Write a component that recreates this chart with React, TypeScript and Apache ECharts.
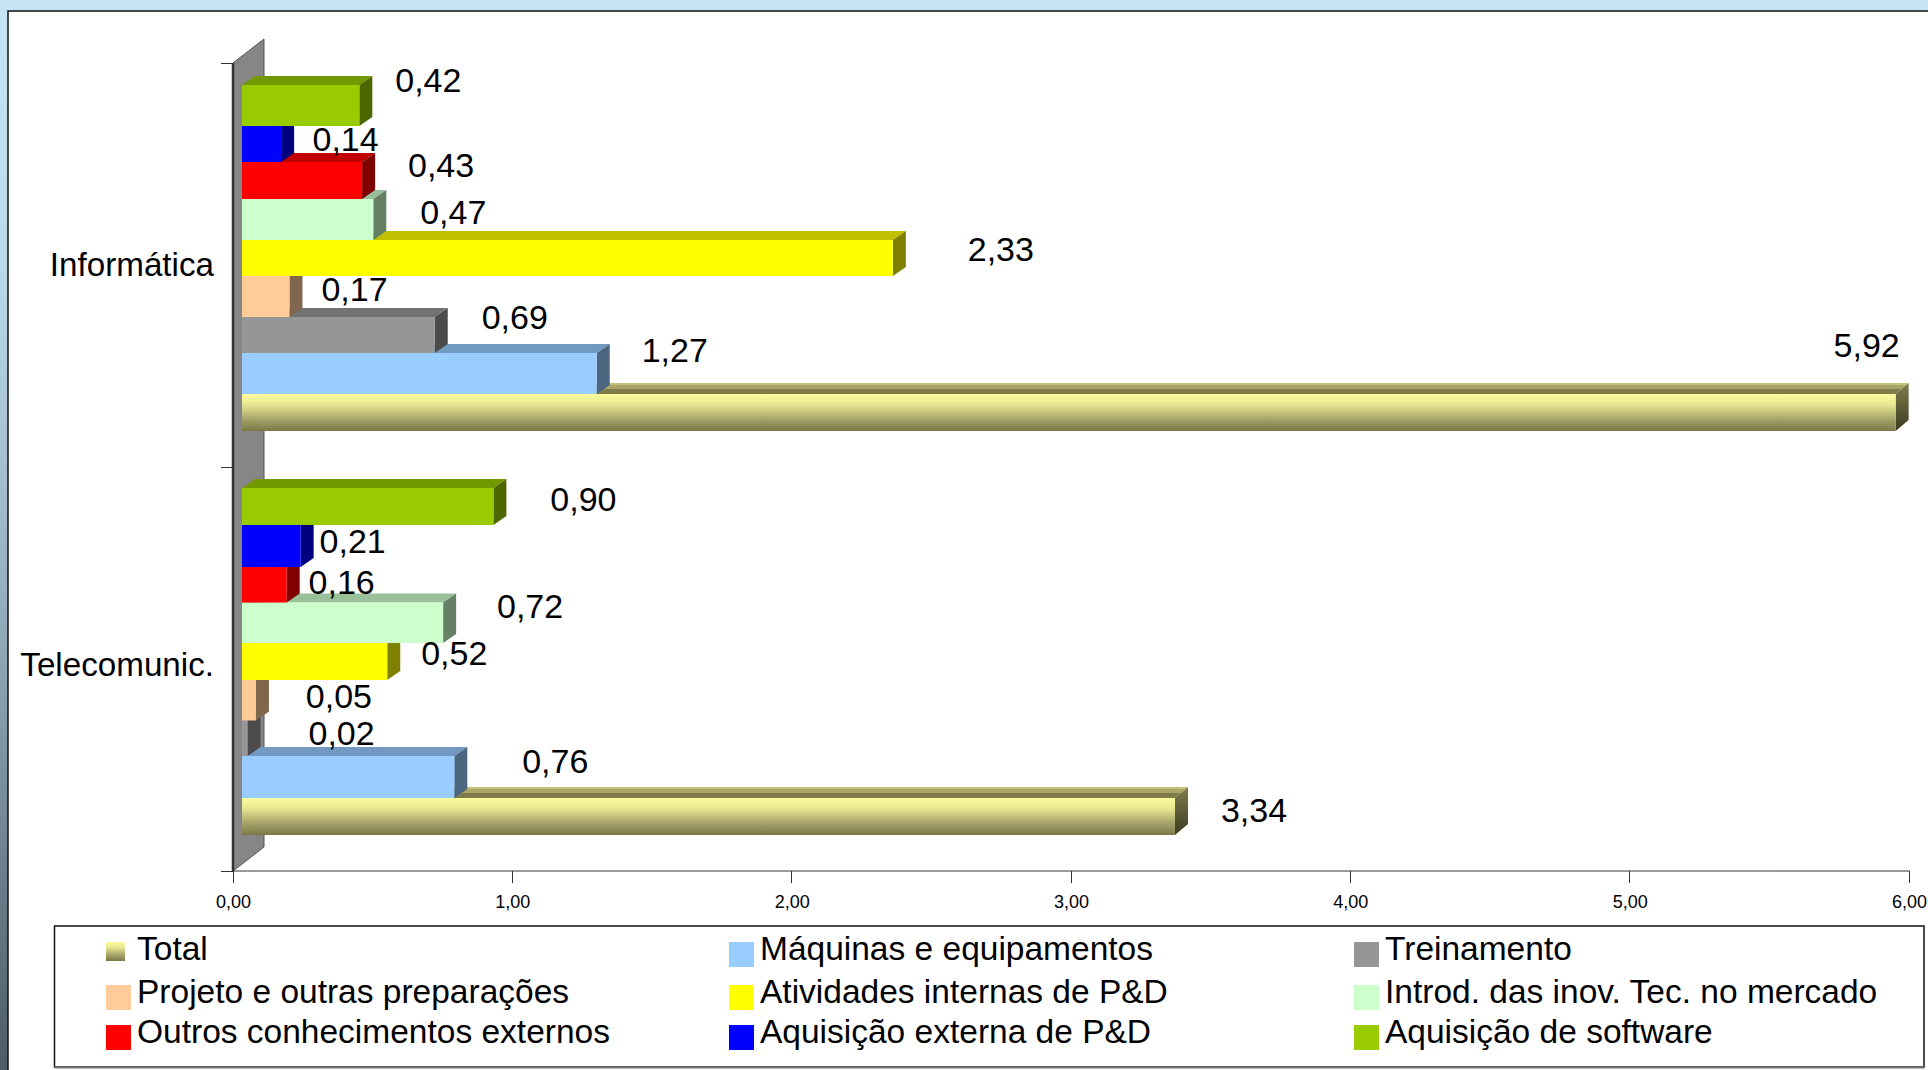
import React, { useEffect, useRef } from "react";
import * as echarts from "echarts";

const categories = ["Telecomunic.", "Informática"];
const axisTicks = [0, 6, 1];

// values are listed [Telecomunic., Informática]
const total = [3.34, 5.92];
const maquinas = [0.76, 1.27];
const treinamento = [0.02, 0.69];
const projeto = [0.05, 0.17];
const atividades = [0.52, 2.33];
const introducao = [0.72, 0.47];
const outros = [0.16, 0.43];
const aquisicaoPD = [0.21, 0.14];
const software = [0.9, 0.42];

const seriesNames = [
  "Total",
  "Máquinas e equipamentos",
  "Treinamento",
  "Projeto e outras preparações",
  "Atividades internas de P&D",
  "Introd. das inov. Tec. no mercado",
  "Outros conhecimentos externos",
  "Aquisição externa de P&D",
  "Aquisição de software",
];
const seriesValues = [total, maquinas, treinamento, projeto, atividades, introducao, outros, aquisicaoPD, software];

const FONT = '"Liberation Sans", Arial, sans-serif';
const vGrad = (stops: [number, string][]) => ({
  type: "linear", x: 0, y: 0, x2: 0, y2: 1, global: false,
  colorStops: stops.map(([offset, color]) => ({ offset, color })),
});

const totalFront = vGrad([[0, "#FDFD9E"], [0.3, "#E6E48F"], [0.65, "#ABA86C"], [1, "#7A7848"]]);
const totalTop = vGrad([[0, "#C6C27C"], [0.22, "#C6C27C"], [0.22, "#A9A566"], [0.55, "#A9A566"], [0.55, "#7F7C4A"], [1, "#7F7C4A"]]);
const totalSide = vGrad([[0, "#7F7D4C"], [1, "#3C3B22"]]);

const faces: { front: any; top: any; side: any }[] = [
  { front: totalFront, top: totalTop, side: totalSide },
  { front: "#99CCFF", top: "#7299C1", side: "#4D6680" },
  { front: "#969696", top: "#737373", side: "#4B4B4B" },
  { front: "#FFCC99", top: "#C09A73", side: "#80664D" },
  { front: "#FFFF00", top: "#C0C000", side: "#808000" },
  { front: "#CCFFCC", top: "#99C099", side: "#668066" },
  { front: "#FF0000", top: "#C00000", side: "#800000" },
  { front: "#0000FF", top: "#0000C0", side: "#000080" },
  { front: "#99CC00", top: "#739900", side: "#4D6600" },
];

// placed data labels: offset from bar end / bar centre, per series, [Telecomunic., Informática]
const labelOffsets: [number, number][][] = [
  [[79, -6], [-29, -67]],
  [[101, -16], [78, -23]],
  [[94, -6], [80, -18]],
  [[83, -4.5], [65, -7.5]],
  [[67, -9], [108, -8.4]],
  [[87, -17], [80, -7]],
  [[55, -3], [79, -15.5]],
  [[52, -5], [64.5, -3.7]],
  [[90, -9], [69, -24]],
];

// bar edges relative to the band centre, bottom to top, [Telecomunic., Informática]
const barEdges = [
  [166, 129, 87, 51.5, 11, -26, -66.5, -102, -144, -181],
  [166, 129, 88, 52, 11, -25, -66, -103, -139, -180],
];

const BAR_X_OFFSET = 9;
const BAR_Y_OFFSET = -7.2;
const BAR_RATIO = 0.0952;
const DEPTH_X = 13;
const DEPTH_Y = 9;
const DEPTH_Y_TOTAL = 11;

const renderBar = (idx: number) => (_params: any, api: any) => {
  const v = api.value(0);
  const cat = api.value(1);
  const [xv, yc] = api.coord([v, cat]);
  const [xz] = api.coord([0, cat]);
  const thick = api.size([0, 1])[1] * BAR_RATIO;
  const labelCentre = yc + BAR_Y_OFFSET + thick * (4 - idx);
  const y0 = yc + barEdges[cat][idx + 1];
  const y1 = yc + barEdges[cat][idx];
  const x0 = xz + BAR_X_OFFSET;
  const x1 = xv + BAR_X_OFFSET;
  const f = faces[idx];
  const [dx, dy] = labelOffsets[idx][cat];
  const depthY = idx === 0 ? DEPTH_Y_TOTAL : DEPTH_Y;
  return {
    type: "group",
    children: [
      { type: "polygon", shape: { points: [[x0, y0], [x0 + DEPTH_X, y0 - depthY], [x1 + DEPTH_X, y0 - depthY], [x1, y0]] }, style: { fill: f.top } },
      { type: "polygon", shape: { points: [[x1, y0], [x1 + DEPTH_X, y0 - depthY], [x1 + DEPTH_X, y1 - depthY], [x1, y1]] }, style: { fill: f.side } },
      { type: "rect", shape: { x: x0, y: y0, width: x1 - x0, height: y1 - y0 }, style: { fill: f.front } },
      {
        type: "text", z2: 20,
        style: {
          text: v.toFixed(2).replace(".", ","), x: x1 + dx, y: labelCentre + dy,
          align: "center", verticalAlign: "middle", fill: "#000", font: `34px ${FONT}`,
        },
      },
    ],
  };
};

const renderWall = (params: any) => {
  const { x, y, width, height } = params.coordSys;
  const b = y + height;
  return {
    type: "group",
    children: [
      { type: "polygon", shape: { points: [[x, y], [x + 31, y - 24], [x + 31, b - 24], [x, b]] }, style: { fill: "#868686", stroke: "#555", lineWidth: 1 } },
      { type: "line", shape: { x1: x, y1: y, x2: x, y2: b }, style: { stroke: "#333", lineWidth: 2.5 } },
    ],
  };
};

// legend item: x of icon, y of icon, icon size
const legendPlaces: [number, number, number][] = [
  [106, 942, 19], [729, 942, 25], [1354, 942, 25],
  [106, 985, 25], [729, 985, 25], [1354, 985, 25],
  [106, 1025, 25], [729, 1025, 25], [1354, 1025, 25],
];
const legendOrder = [0, 1, 2, 3, 4, 5, 6, 7, 8];

export default function App() {
  const ref = useRef<HTMLDivElement>(null);
  useEffect(() => {
    const chart = echarts.init(ref.current!, null, { renderer: "svg" });
    chart.setOption({
      animation: false,
      backgroundColor: "#ffffff",
      graphic: [
        { type: "rect", z: -10, shape: { x: 0, y: 0, width: 1928, height: 1070 }, style: { fill: vGrad([[0, "#C5E4F6"], [0.25, "#BBD9EC"], [0.6, "#8FA9B9"], [1, "#4C5C66"]]) } },
        { type: "rect", z: -9, shape: { x: 8, y: 11, width: 1930, height: 1070 }, style: { fill: "#fff", stroke: "#111", lineWidth: 1.5 } },
        { type: "rect", z: -8, shape: { x: 54.5, y: 926, width: 1869.5, height: 141 }, style: { fill: "#fff", stroke: "#111", lineWidth: 1.5 } },
        { type: "line", z: -7, shape: { x1: 54, y1: 1067.5, x2: 1925, y2: 1067.5 }, style: { stroke: "#777", lineWidth: 2 } },
      ],
      grid: { left: 233, right: 19, top: 63, bottom: 199, containLabel: false, outerBoundsMode: "none" },
      xAxis: {
        type: "value", min: axisTicks[0], max: axisTicks[1], interval: axisTicks[2],
        splitLine: { show: false },
        axisLine: { show: true, lineStyle: { color: "#777", width: 1.5 } },
        axisTick: { show: true, length: 12, lineStyle: { color: "#333", width: 1 } },
        axisLabel: {
          color: "#000", margin: 22,
          showMinLabel: true, showMaxLabel: true,
          formatter: (v: number) => `{a|${v.toFixed(2).replace(".", ",")}}`,
          rich: { a: { fontFamily: FONT, fontSize: 18, color: "#000", padding: [0, 0, 0, 1] } },
        },
      },
      yAxis: {
        type: "category", data: categories,
        axisLine: { show: true, lineStyle: { color: "#333", width: 1 } },
        axisTick: { show: true, length: 12, alignWithLabel: false, lineStyle: { color: "#333", width: 1 } },
        axisLabel: {
          margin: 19,
          formatter: (v: string) => (v === categories[0] ? `{t|${v}}` : `{i|${v}}`),
          rich: {
            t: { fontFamily: FONT, fontSize: 33.2, color: "#000", padding: [0, 0, 10, 0] },
            i: { fontFamily: FONT, fontSize: 33.2, color: "#000", padding: [0, 0, 1, 0] },
          },
        },
      },
      legend: legendOrder.map((i) => {
        const [x, y, size] = legendPlaces[i];
        return {
          data: [{ name: seriesNames[i], icon: "rect" }], left: x, top: y - 11, padding: 0, itemWidth: size, itemHeight: size,
          selectedMode: false,
          formatter: (n: string) => `{a|${n}}`,
          textStyle: {
            rich: {
              a: {
                fontFamily: FONT, fontSize: 33.5, color: "#000", lineHeight: 29,
                padding: size === 19 ? [0, 0, 7, 7] : [0, 0, 13, 1],
              },
            },
          },
        };
      }),
      series: [
        {
          type: "custom", name: "wall", coordinateSystem: "cartesian2d", silent: true, z: 1,
          encode: { x: 0, y: 1 }, data: [[0, 0]], renderItem: renderWall,
        },
        ...seriesNames.map((name, i) => ({
          type: "custom", name, coordinateSystem: "cartesian2d", silent: true, z: 2,
          encode: { x: 0, y: 1 },
          itemStyle: { color: faces[i].front },
          data: seriesValues[i].map((v, c) => [v, c]),
          renderItem: renderBar(i),
        })),
      ],
    });
    return () => chart.dispose();
  }, []);
  return <div ref={ref} style={{ position: "fixed", left: 0, top: 0, width: 1928, height: 1070 }} />;
}
